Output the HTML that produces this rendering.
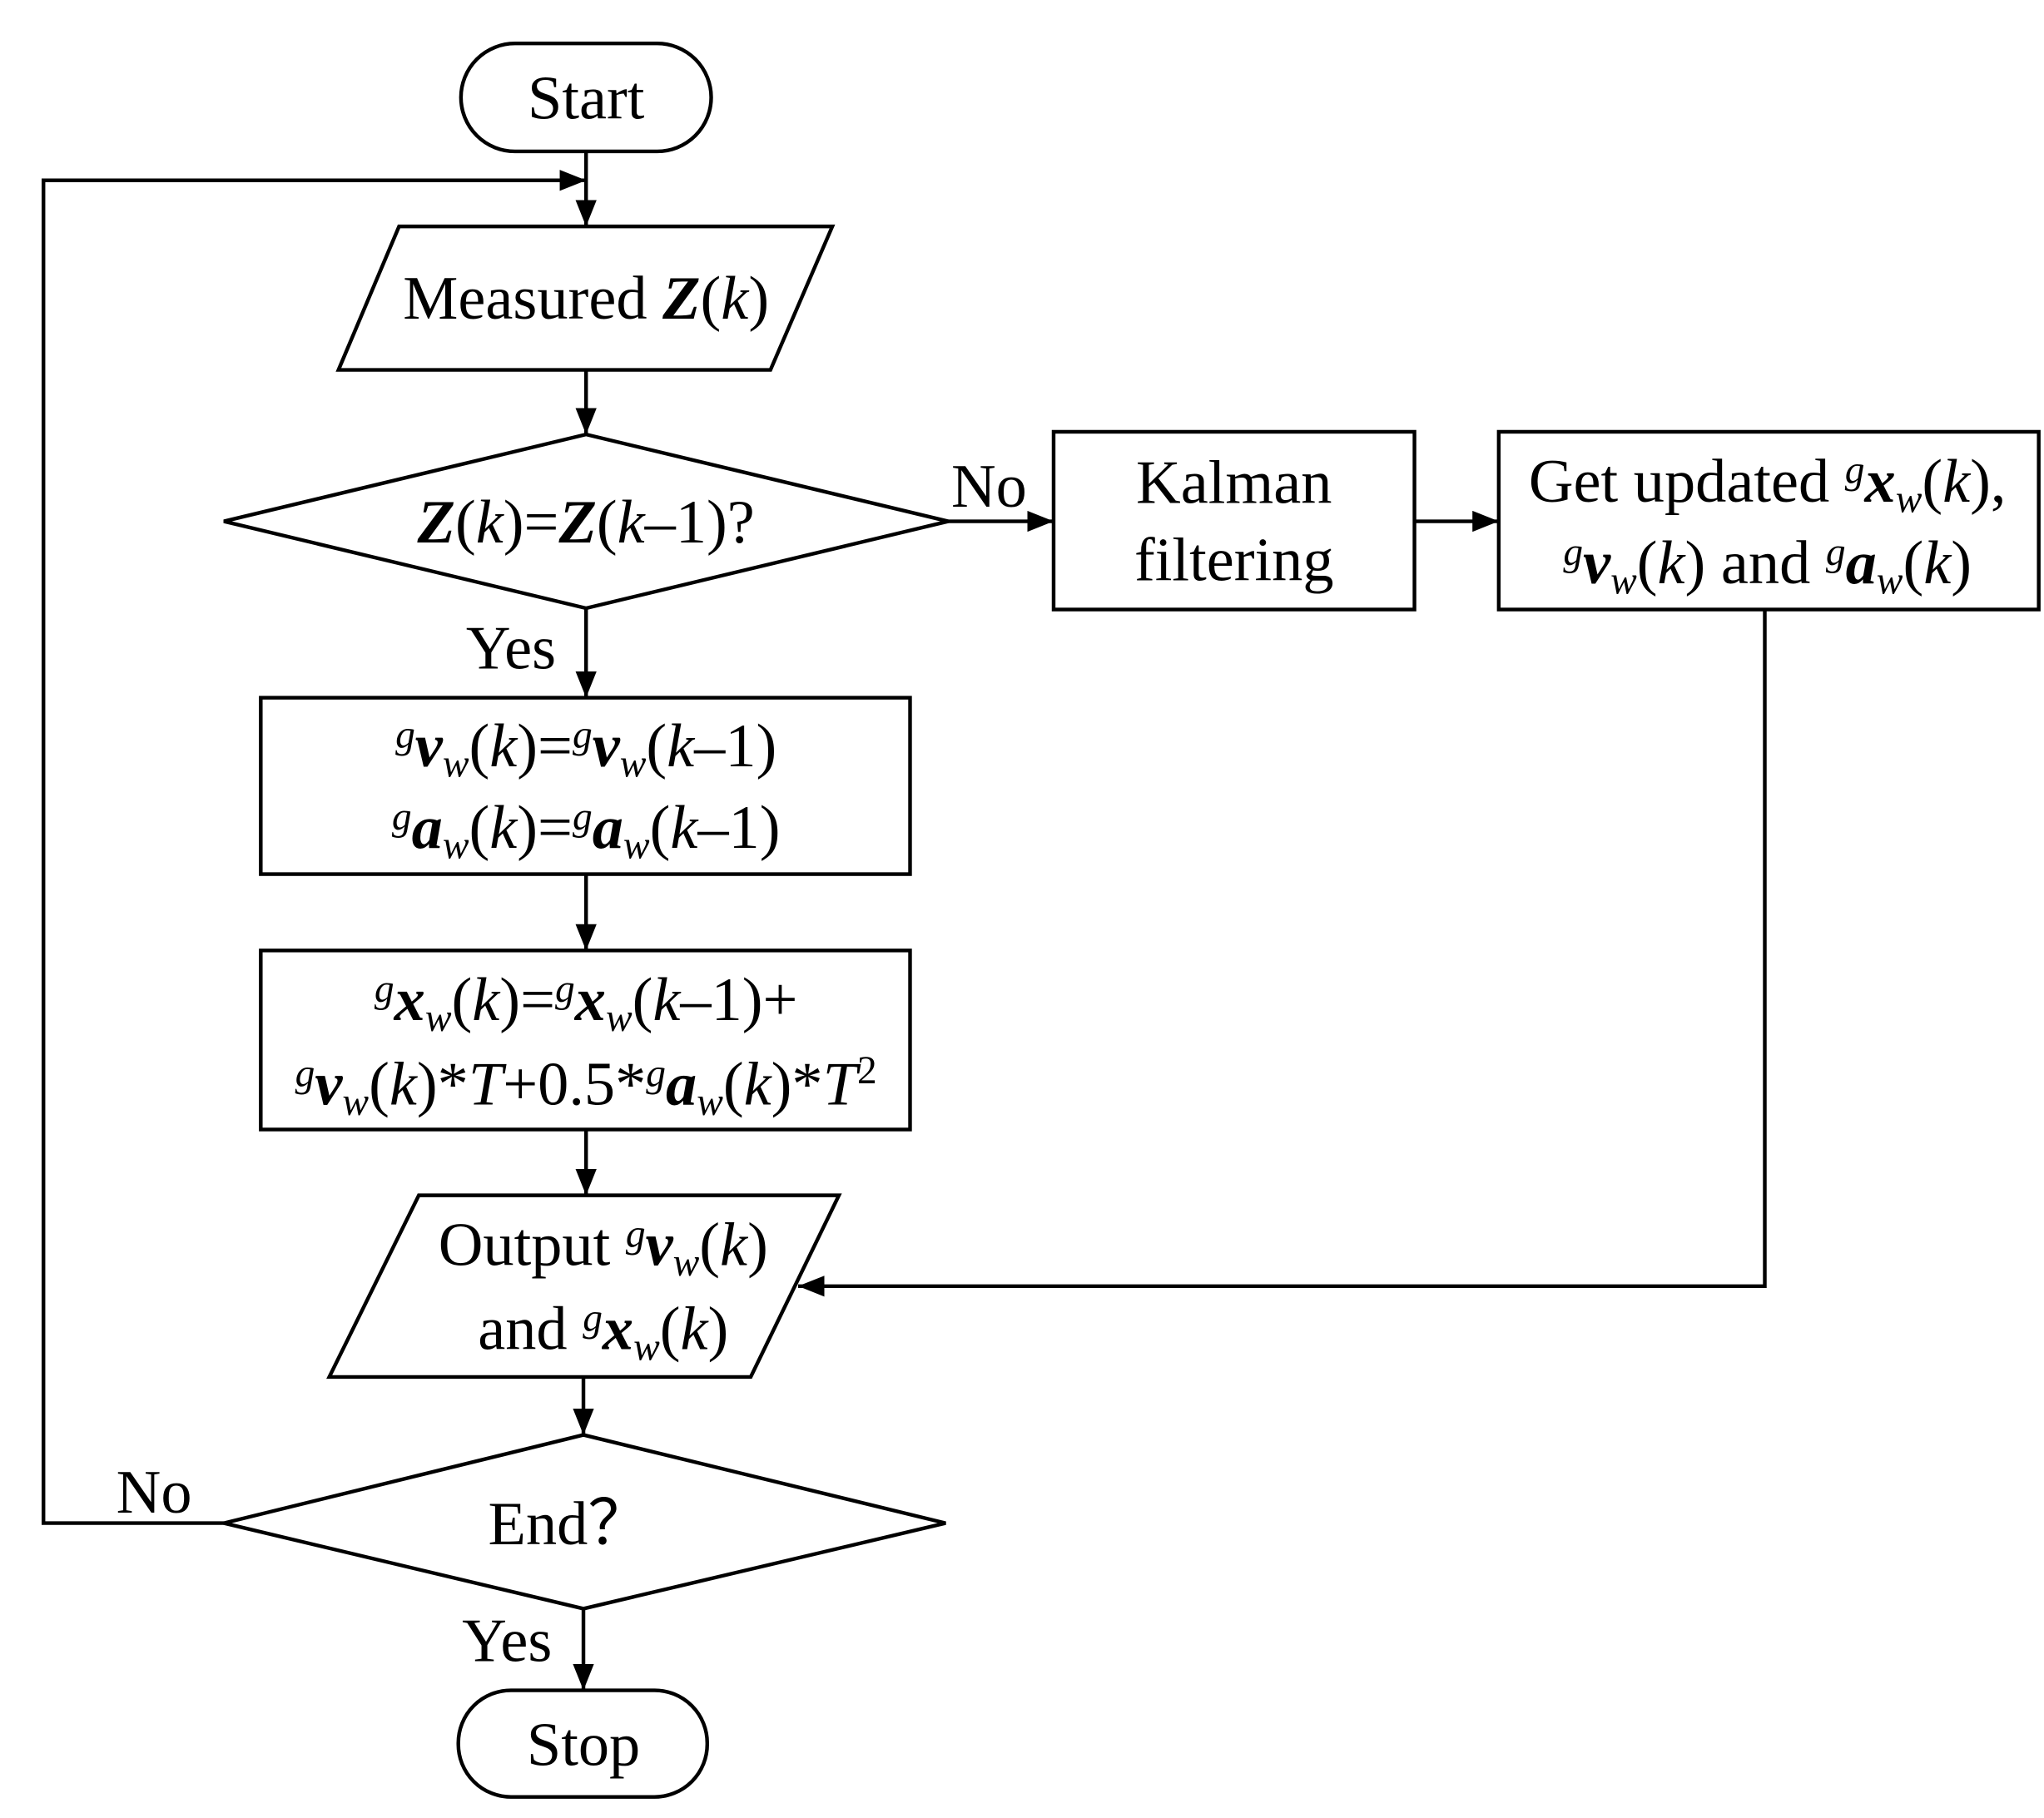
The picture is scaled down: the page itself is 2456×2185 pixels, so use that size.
<!DOCTYPE html>
<html><head><meta charset="utf-8"><style>
html,body{margin:0;padding:0;background:#fff;}
svg{display:block;}
text{font-family:"Liberation Serif",serif;font-size:47px;fill:#000;}
.b{font-weight:bold;font-style:italic;}
.i{font-style:italic;}
.s{font-size:30px;}
</style></head><body>
<svg width="2456" height="2185" viewBox="0 0 1552 1381" preserveAspectRatio="none" xmlns="http://www.w3.org/2000/svg">
<defs>
<marker id="ar" viewBox="0 0 20 16" markerWidth="20" markerHeight="16" refX="20" refY="8" orient="auto" markerUnits="userSpaceOnUse"><path d="M0,0 L20,8 L0,16 z" fill="#000"/></marker></defs>
<g fill="none" stroke="#000" stroke-width="2.8">
<rect x="350" y="33" width="190" height="82" rx="41"/>
<polygon points="303,172 632,172 585,281 257,281"/>
<polygon points="170,396 445,330 720,396 445,462"/>
<rect x="800" y="328" width="274" height="135"/>
<rect x="1138" y="328" width="410" height="135"/>
<rect x="198" y="530" width="493" height="134"/>
<rect x="198" y="722" width="493" height="136"/>
<polygon points="318,908 637,908 570,1046 250,1046"/>
<polygon points="170,1157 443,1090 718,1157 443,1222"/>
<rect x="348" y="1284" width="189" height="81" rx="40"/>
<g marker-end="url(#ar)">
<line x1="445" y1="115" x2="445" y2="172"/>
<polyline points="170,1157 33,1157 33,137 445,137"/>
<line x1="445" y1="281" x2="445" y2="330"/>
<line x1="720" y1="396" x2="800" y2="396"/>
<line x1="1074" y1="396" x2="1138" y2="396"/>
<line x1="445" y1="462" x2="445" y2="530"/>
<line x1="445" y1="664" x2="445" y2="722"/>
<line x1="445" y1="858" x2="445" y2="908"/>
<polyline points="1340,463 1340,977 606,977"/>
<line x1="443" y1="1046" x2="443" y2="1090"/>
<line x1="443" y1="1222" x2="443" y2="1284"/>
</g>
</g>
<text x="445" y="90" text-anchor="middle">Start</text>
<text x="445" y="242" text-anchor="middle">Measured <tspan class="b">Z</tspan>(<tspan class="i">k</tspan>)</text>
<text x="445" y="412" text-anchor="middle"><tspan class="b">Z</tspan>(<tspan class="i">k</tspan>)=<tspan class="b">Z</tspan>(<tspan class="i">k</tspan>–1)?</text>
<text x="751" y="385" text-anchor="middle">No</text>
<text x="937" y="382" text-anchor="middle">Kalman</text>
<text x="937" y="441" text-anchor="middle">filtering</text>
<text x="1342" y="381" text-anchor="middle">Get updated <tspan class="i s" dy="-14">g</tspan><tspan class="b" dy="14">x</tspan><tspan class="i s" dy="8">w</tspan><tspan dy="-8">(</tspan><tspan class="i">k</tspan>),</text>
<text x="1342" y="443" text-anchor="middle"><tspan class="i s" dy="-14">g</tspan><tspan class="b" dy="14">v</tspan><tspan class="i s" dy="8">w</tspan><tspan dy="-8">(</tspan><tspan class="i">k</tspan>) and <tspan class="i s" dy="-14">g</tspan><tspan class="b" dy="14">a</tspan><tspan class="i s" dy="8">w</tspan><tspan dy="-8">(</tspan><tspan class="i">k</tspan>)</text>
<text x="388" y="508" text-anchor="middle">Yes</text>
<text x="445" y="582" text-anchor="middle"><tspan class="i s" dy="-14">g</tspan><tspan class="b" dy="14">v</tspan><tspan class="i s" dy="8">w</tspan><tspan dy="-8">(</tspan><tspan class="i">k</tspan>)=<tspan class="i s" dy="-14">g</tspan><tspan class="b" dy="14">v</tspan><tspan class="i s" dy="8">w</tspan><tspan dy="-8">(</tspan><tspan class="i">k</tspan>–1)</text>
<text x="445" y="644" text-anchor="middle"><tspan class="i s" dy="-14">g</tspan><tspan class="b" dy="14">a</tspan><tspan class="i s" dy="8">w</tspan><tspan dy="-8">(</tspan><tspan class="i">k</tspan>)=<tspan class="i s" dy="-14">g</tspan><tspan class="b" dy="14">a</tspan><tspan class="i s" dy="8">w</tspan><tspan dy="-8">(</tspan><tspan class="i">k</tspan>–1)</text>
<text x="445" y="775" text-anchor="middle"><tspan class="i s" dy="-14">g</tspan><tspan class="b" dy="14">x</tspan><tspan class="i s" dy="8">w</tspan><tspan dy="-8">(</tspan><tspan class="i">k</tspan>)=<tspan class="i s" dy="-14">g</tspan><tspan class="b" dy="14">x</tspan><tspan class="i s" dy="8">w</tspan><tspan dy="-8">(</tspan><tspan class="i">k</tspan>–1)+</text>
<text x="445" y="839" text-anchor="middle"><tspan class="i s" dy="-14">g</tspan><tspan class="b" dy="14">v</tspan><tspan class="i s" dy="8">w</tspan><tspan dy="-8">(</tspan><tspan class="i">k</tspan>)*<tspan class="i">T</tspan>+0.5*<tspan class="i s" dy="-14">g</tspan><tspan class="b" dy="14">a</tspan><tspan class="i s" dy="8">w</tspan><tspan dy="-8">(</tspan><tspan class="i">k</tspan>)*<tspan class="i">T</tspan><tspan class="s" dy="-16">2</tspan></text>
<text x="458" y="961" text-anchor="middle">Output <tspan class="i s" dy="-14">g</tspan><tspan class="b" dy="14">v</tspan><tspan class="i s" dy="8">w</tspan><tspan dy="-8">(</tspan><tspan class="i">k</tspan>)</text>
<text x="458" y="1025" text-anchor="middle">and <tspan class="i s" dy="-14">g</tspan><tspan class="b" dy="14">x</tspan><tspan class="i s" dy="8">w</tspan><tspan dy="-8">(</tspan><tspan class="i">k</tspan>)</text>
<text x="117" y="1149" text-anchor="middle">No</text>
<text x="432" y="1173" text-anchor="middle">End？</text>
<text x="385" y="1262" text-anchor="middle">Yes</text>
<text x="443" y="1341" text-anchor="middle">Stop</text>
</svg>
</body></html>
